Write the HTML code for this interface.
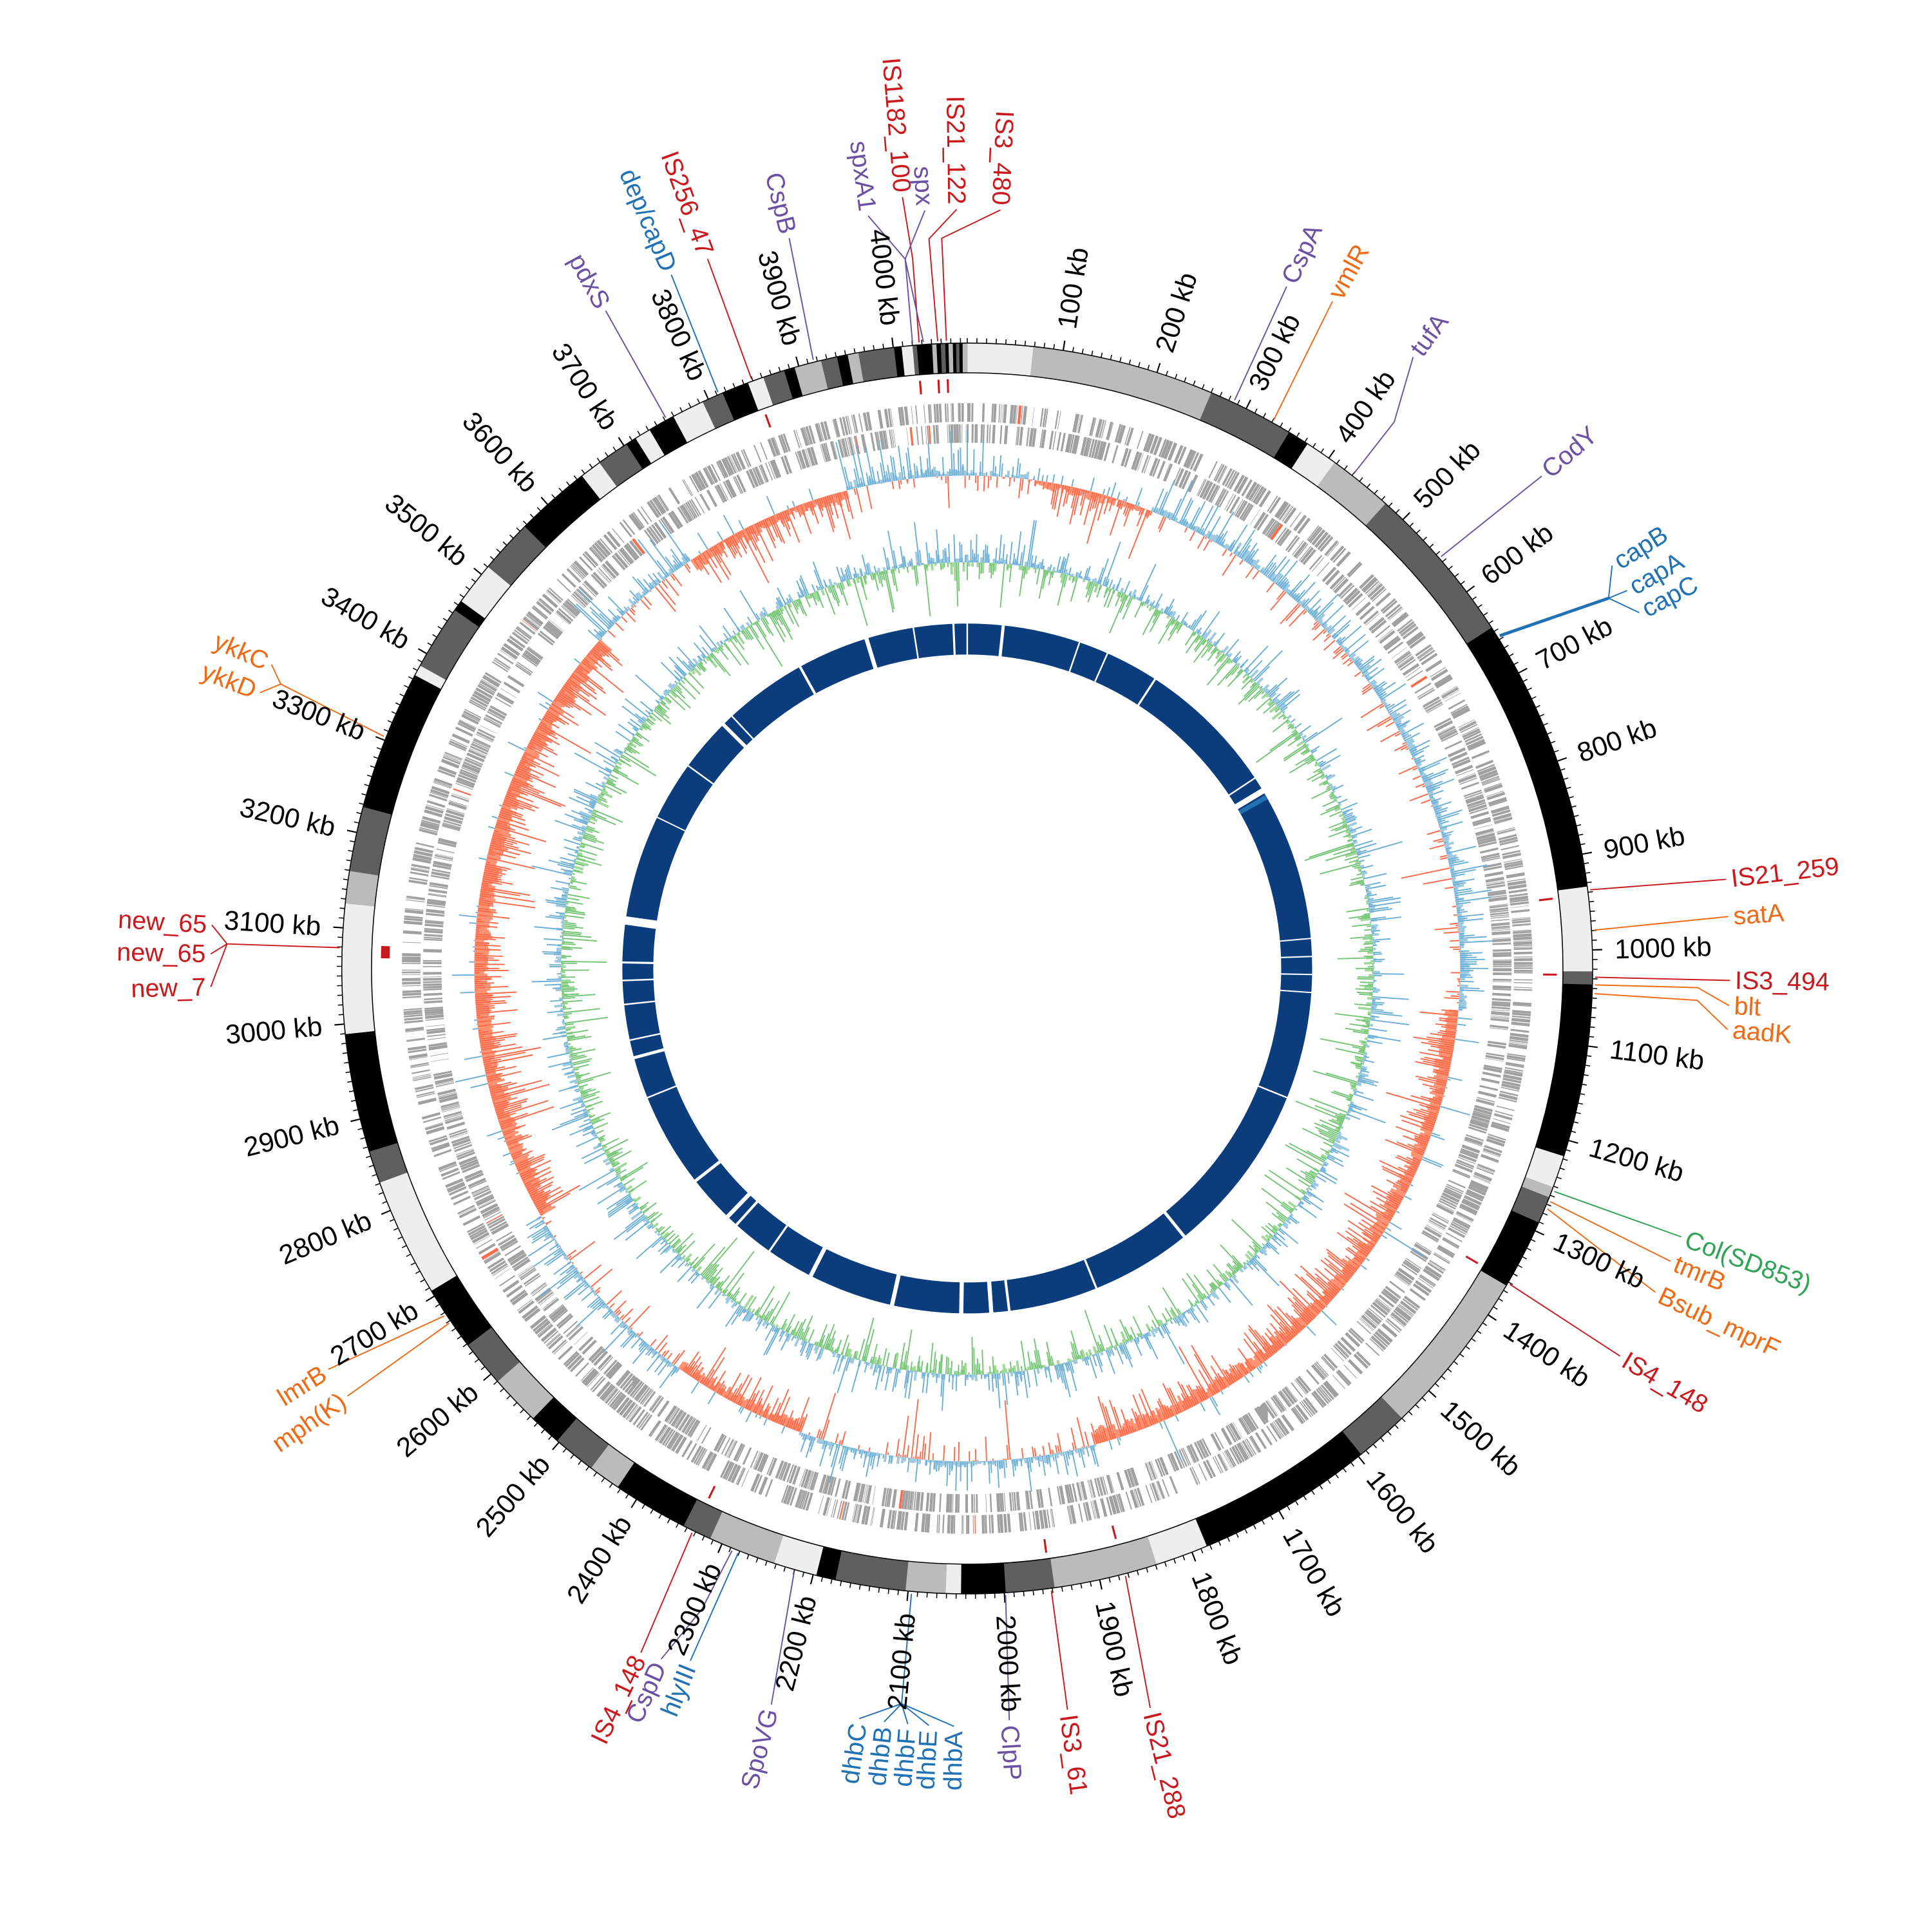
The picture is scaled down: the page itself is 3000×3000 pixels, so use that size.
<!DOCTYPE html>
<html><head><meta charset="utf-8"><style>
html,body{margin:0;padding:0;background:#fff}
svg{display:block}
text{font-family:"Liberation Sans Narrow","Liberation Sans",sans-serif;dominant-baseline:central}
.t{font-size:22px;fill:#000}
.a{font-size:20.5px}
.r{fill:#cb181d}.o{fill:#f16913}.p{fill:#6a51a3}.b{fill:#2171b5}.g{fill:#31a354}
</style></head><body>
<svg id="s" xmlns="http://www.w3.org/2000/svg" width="3000" height="3000" viewBox="0 0 1560 1560">
<rect width="1560" height="1560" fill="#fff"/>
<g id="data"></g>
<g id="tl">
<text class="t" x="1304" y="782" transform="rotate(-81.17 781 782)">100 kb</text>
<text class="t" x="1304" y="782" transform="rotate(-72.34 781 782)">200 kb</text>
<text class="t" x="1304" y="782" transform="rotate(-63.51 781 782)">300 kb</text>
<text class="t" x="1304" y="782" transform="rotate(-54.68 781 782)">400 kb</text>
<text class="t" x="1304" y="782" transform="rotate(-45.85 781 782)">500 kb</text>
<text class="t" x="1304" y="782" transform="rotate(-37.02 781 782)">600 kb</text>
<text class="t" x="1304" y="782" transform="rotate(-28.19 781 782)">700 kb</text>
<text class="t" x="1304" y="782" transform="rotate(-19.36 781 782)">800 kb</text>
<text class="t" x="1304" y="782" transform="rotate(-10.53 781 782)">900 kb</text>
<text class="t" x="1304" y="782" transform="rotate(-1.70 781 782)">1000 kb</text>
<text class="t" x="1304" y="782" transform="rotate(7.13 781 782)">1100 kb</text>
<text class="t" x="1304" y="782" transform="rotate(15.96 781 782)">1200 kb</text>
<text class="t" x="1304" y="782" transform="rotate(24.79 781 782)">1300 kb</text>
<text class="t" x="1304" y="782" transform="rotate(33.62 781 782)">1400 kb</text>
<text class="t" x="1304" y="782" transform="rotate(42.45 781 782)">1500 kb</text>
<text class="t" x="1304" y="782" transform="rotate(51.28 781 782)">1600 kb</text>
<text class="t" x="1304" y="782" transform="rotate(60.11 781 782)">1700 kb</text>
<text class="t" x="1304" y="782" transform="rotate(68.94 781 782)">1800 kb</text>
<text class="t" x="1304" y="782" transform="rotate(77.77 781 782)">1900 kb</text>
<text class="t" x="1304" y="782" transform="rotate(86.60 781 782)">2000 kb</text>
<text class="t" x="258" y="782" text-anchor="end" transform="rotate(275.43 781 782)">2100 kb</text>
<text class="t" x="258" y="782" text-anchor="end" transform="rotate(284.26 781 782)">2200 kb</text>
<text class="t" x="258" y="782" text-anchor="end" transform="rotate(293.09 781 782)">2300 kb</text>
<text class="t" x="258" y="782" text-anchor="end" transform="rotate(301.92 781 782)">2400 kb</text>
<text class="t" x="258" y="782" text-anchor="end" transform="rotate(310.75 781 782)">2500 kb</text>
<text class="t" x="258" y="782" text-anchor="end" transform="rotate(319.58 781 782)">2600 kb</text>
<text class="t" x="258" y="782" text-anchor="end" transform="rotate(328.41 781 782)">2700 kb</text>
<text class="t" x="258" y="782" text-anchor="end" transform="rotate(337.24 781 782)">2800 kb</text>
<text class="t" x="258" y="782" text-anchor="end" transform="rotate(346.07 781 782)">2900 kb</text>
<text class="t" x="258" y="782" text-anchor="end" transform="rotate(354.90 781 782)">3000 kb</text>
<text class="t" x="258" y="782" text-anchor="end" transform="rotate(363.73 781 782)">3100 kb</text>
<text class="t" x="258" y="782" text-anchor="end" transform="rotate(372.56 781 782)">3200 kb</text>
<text class="t" x="258" y="782" text-anchor="end" transform="rotate(381.39 781 782)">3300 kb</text>
<text class="t" x="258" y="782" text-anchor="end" transform="rotate(390.22 781 782)">3400 kb</text>
<text class="t" x="258" y="782" text-anchor="end" transform="rotate(399.05 781 782)">3500 kb</text>
<text class="t" x="258" y="782" text-anchor="end" transform="rotate(407.88 781 782)">3600 kb</text>
<text class="t" x="258" y="782" text-anchor="end" transform="rotate(416.71 781 782)">3700 kb</text>
<text class="t" x="258" y="782" text-anchor="end" transform="rotate(425.54 781 782)">3800 kb</text>
<text class="t" x="258" y="782" text-anchor="end" transform="rotate(434.37 781 782)">3900 kb</text>
<text class="t" x="258" y="782" text-anchor="end" transform="rotate(443.20 781 782)">4000 kb</text>
</g>
<g id="al">
<text class="a p" x="1393" y="782" transform="rotate(-64.9 781 782)">CspA</text>
<text class="a o" x="1399" y="782" transform="rotate(-61.3 781 782)">vmlR</text>
<text class="a p" x="1396" y="782" transform="rotate(-53.9 781 782)">tufA</text>
<text class="a p" x="1396" y="782" transform="rotate(-40.6 781 782)">CodY</text>
<text class="a b" x="1399" y="782" transform="rotate(-32.0 781 782)">capB</text>
<text class="a b" x="1399" y="782" transform="rotate(-29.8 781 782)">capA</text>
<text class="a b" x="1399" y="782" transform="rotate(-27.9 781 782)">capC</text>
<text class="a r" x="1402" y="782" transform="rotate(-6.7 781 782)">IS21_259</text>
<text class="a o" x="1401" y="782" transform="rotate(-3.9 781 782)">satA</text>
<text class="a r" x="1401" y="782" transform="rotate(0.9 781 782)">IS3_494</text>
<text class="a o" x="1401" y="782" transform="rotate(2.8 781 782)">blt</text>
<text class="a o" x="1401" y="782" transform="rotate(4.6 781 782)">aadK</text>
<text class="a g" x="1401" y="782" transform="rotate(20.6 781 782)">Col(SD853)</text>
<text class="a o" x="1400" y="782" transform="rotate(22.6 781 782)">tmrB</text>
<text class="a o" x="1399" y="782" transform="rotate(25.2 781 782)">Bsub_mprF</text>
<text class="a r" x="1398" y="782" transform="rotate(30.7 781 782)">IS4_148</text>
<text class="a r" x="1400" y="782" transform="rotate(76.1 781 782)">IS21_288</text>
<text class="a r" x="1389" y="782" transform="rotate(82.3 781 782)">IS3_61</text>
<text class="a p" x="1393" y="782" transform="rotate(86.8 781 782)">ClpP</text>
<text class="a b" x="165" y="782" text-anchor="end" transform="rotate(271 781 782)">dhbA</text>
<text class="a b" x="165" y="782" text-anchor="end" transform="rotate(272.9 781 782)">dhbE</text>
<text class="a b" x="165" y="782" text-anchor="end" transform="rotate(274.5 781 782)">dhbF</text>
<text class="a b" x="165" y="782" text-anchor="end" transform="rotate(276.3 781 782)">dhbB</text>
<text class="a b" x="165" y="782" text-anchor="end" transform="rotate(278.2 781 782)">dhbC</text>
<text class="a p" x="162" y="782" text-anchor="end" transform="rotate(284.9 781 782)">SpoVG</text>
<text class="a b" x="175" y="782" text-anchor="end" transform="rotate(291.8 781 782)">hlyIII</text>
<text class="a p" x="167" y="782" text-anchor="end" transform="rotate(293.9 781 782)">CspD</text>
<text class="a r" x="165" y="782" text-anchor="end" transform="rotate(295.5 781 782)">IS4_148</text>
<text class="a o" x="168" y="782" text-anchor="end" transform="rotate(327.9 781 782)">lmrB</text>
<text class="a o" x="169" y="782" text-anchor="end" transform="rotate(325.4 781 782)">mph(K)</text>
<text class="a r" x="166" y="782" text-anchor="end" transform="rotate(363.3 781 782)">new_65</text>
<text class="a r" x="166" y="782" text-anchor="end" transform="rotate(361.1 781 782)">new_65</text>
<text class="a r" x="166" y="782" text-anchor="end" transform="rotate(358.6 781 782)">new_7</text>
<text class="a o" x="164" y="782" text-anchor="end" transform="rotate(383.6 781 782)">ykkC</text>
<text class="a o" x="164" y="782" text-anchor="end" transform="rotate(381.3 781 782)">ykkD</text>
<text class="a p" x="171" y="782" text-anchor="end" transform="rotate(421.2 781 782)">pdxS</text>
<text class="a b" x="168" y="782" text-anchor="end" transform="rotate(426.9 781 782)">dep/capD</text>
<text class="a r" x="167" y="782" text-anchor="end" transform="rotate(429.9 781 782)">IS256_47</text>
<text class="a p" x="170" y="782" text-anchor="end" transform="rotate(436.3 781 782)">CspB</text>
<text class="a p" x="164" y="782" text-anchor="end" transform="rotate(442.5 781 782)">spxA1</text>
<text class="a r" x="152" y="782" text-anchor="end" transform="rotate(445.2 781 782)">IS1182_100</text>
<text class="a p" x="164" y="782" text-anchor="end" transform="rotate(446.8 781 782)">spx</text>
<text class="a r" x="164" y="782" text-anchor="end" transform="rotate(449.2 781 782)">IS21_122</text>
<text class="a r" x="164" y="782" text-anchor="end" transform="rotate(452.5 781 782)">IS3_480</text>
</g>
</svg>
<script>
(function(){
var NS="http://www.w3.org/2000/svg",D=document.getElementById("data");
var CX=781,CY=782;
function P(r,a){a=a*Math.PI/180;return [CX+r*Math.sin(a),CY-r*Math.cos(a)];}
function f(v){return v.toFixed(2);}
function arc(r,a1,a2){var p=P(r,a1),q=P(r,a2);var l=(a2-a1)>180?1:0;return "M"+f(p[0])+","+f(p[1])+"A"+r+","+r+" 0 "+l+" 1 "+f(q[0])+","+f(q[1]);}
function el(tag,at){var e=document.createElementNS(NS,tag);for(var k in at)e.setAttribute(k,at[k]);D.appendChild(e);return e;}
function path(d,at){at.d=d;if(!at.fill)at.fill="none";return el("path",at);}
function rl(r1,r2,a){var p=P(r1,a),q=P(r2,a);return "M"+f(p[0])+","+f(p[1])+"L"+f(q[0])+","+f(q[1]);}
var s=12345;function R(){s|=0;s=s+0x6D2B79F5|0;var t=Math.imul(s^s>>>15,1|s);t=t+Math.imul(t^t>>>7,61|t)^t;return((t^t>>>14)>>>0)/4294967296;}
function G(){var u=R()||1e-9,v=R();return Math.sqrt(-2*Math.log(u))*Math.cos(2*Math.PI*v);}

var K="#000",Dk="#5f5f5f",M="#bbbbbb",L="#eeeeee";
var seg=[[0,6.1,L],[6.1,23,M],[23,31,Dk],[31,33,K],[33,36,L],[36,42,M],[42,57,Dk],[57,82.5,K],[82.5,90.3,L],[90.3,91.5,Dk],[91.5,107.5,K],[107.5,110.5,L],[110.5,111.5,M],[111.5,114,Dk],[114,120.5,K],[120.5,136,M],[136,141,Dk],[141,157.5,K],[157.5,162.4,L],[162.4,172,M],[172,176.5,Dk],[176.5,180.6,K],[180.6,182,L],[182,185.7,M],[185.7,192.2,Dk],[192.2,194,K],[194,198,L],[198,204.3,M],[204.3,207,Dk],[207,214,K],[214,217,M],[217,221,Dk],[221,224,K],[224,228.7,M],[228.7,233,Dk],[233,239,K],[239,250,L],[250,253,Dk],[253,264,K],[264,276,L],[276,279,M],[279,285,Dk],[285,298,K],[298,299,L],[299,305,Dk],[305,306,K],[306,310,L],[310,315,Dk],[315,322,K],[322,324,L],[324,327,Dk],[327,328,K],[328,329.5,L],[329.5,332,K],[332,335,L],[335,337,Dk],[337,339.5,K],[339.5,341,L],[341,343,Dk],[343,344,K],[344,346.5,M],[346.5,348,Dk],[348,349,K],[349,350,M],[350,353.3,Dk],[353.3,354,K],[354,355,L],[355,355.4,Dk],[355.4,356.8,K],[356.8,357.2,M],[357.2,357.6,K],[357.6,358,Dk],[358,358.3,K],[358.3,358.7,M],[358.7,359,K],[359,359.3,Dk],[359.3,359.6,K],[359.6,360,M]];
seg.forEach(function(g){path(arc(493,g[0]-0.03,g[1]+0.03),{stroke:g[2],"stroke-width":24});});
el("circle",{cx:CX,cy:CY,r:505,fill:"none",stroke:"#000","stroke-width":0.8});
el("circle",{cx:CX,cy:CY,r:481,fill:"none",stroke:"#000","stroke-width":0.8});
var dm="",dM="",kbd=360/4077;
for(var k=0;k<4077;k+=10){var a=k*kbd;if(k%100==0&&k>0)dM+=rl(505,513,a);else dm+=rl(505,509,a);}
path(dm,{stroke:"#000","stroke-width":0.8});path(dM,{stroke:"#000","stroke-width":1.1});

var isd="";[-4.6,-2.8,-1.9,340,83.2,90.6,120,165.4,172.3,206].forEach(function(a){isd+=rl(465,476,a);});
path(isd,{stroke:"#cb181d","stroke-width":1.6});
path(arc(470,271,272.2),{stroke:"#cb181d","stroke-width":7});

[[449,15],[432,15]].forEach(function(row){
 var d="",dr="",a=0;
 while(a<360){var len=0.04+R()*0.3;
  if(R()<0.62){var x=arc(row[0],a,a+len);if(R()<0.01)dr+=x;else d+=x;}
  a+=len+R()*0.12;}
 path(d,{stroke:"#a0a0a0","stroke-width":row[1]});
 path(dr,{stroke:"#fb6a4a","stroke-width":row[1]});
});

function tr(a,T){for(var i=0;i<T.length;i++){if(a>=T[i][0]&&a<T[i][1])return T[i][2];}return 0;}
var TS=[[0,8,3],[8,22,-6],[22,95,6],[95,165,-13],[165,200,4],[200,216,-10],[216,240,3],[240,312,-16],[312,326,5],[326,346,-10],[346,360,5]];
var B1=398,lb="",lr="",sb="",sr="";
for(var i=0;i<1440;i++){var a=i/4;var t=tr(a,TS);
 var ts=t*0.7+G()*2;
 if(ts>0)lb+=rl(B1,B1+ts,a);else lr+=rl(B1,B1+ts,a);
 var v=t+G()*12+(R()<0.07?G()*18:0);
 if(v>0)sb+=rl(B1,B1+Math.min(v,40),a);else sr+=rl(B1,B1+Math.max(v,-48),a);}
path(lb,{stroke:"#9ecae1","stroke-width":2});
path(lr,{stroke:"#fc9272","stroke-width":2});
path(sr,{stroke:"#fb6a4a","stroke-width":1});
path(sb,{stroke:"#6baed6","stroke-width":1});

var B2=328,gb="",gg="",lg="",lbb="";
for(var i=0;i<1440;i++){var a=i/4;
 var m=G()*4;
 if(m<0)lg+=rl(B2,B2+m,a);else lbb+=rl(B2,B2+m,a);
 var v=G()*12+(R()<0.07?-Math.abs(G())*22:0)+(R()<0.05?Math.abs(G())*16:0);
 if(v>0)gb+=rl(B2,B2+Math.min(v,38),a);else gg+=rl(B2,B2+Math.max(v,-42),a);}
path(lg,{stroke:"#a1d99b","stroke-width":2});
path(lbb,{stroke:"#9ecae1","stroke-width":2});
path(gg,{stroke:"#74c476","stroke-width":1});
path(gb,{stroke:"#6baed6","stroke-width":1});

el("circle",{cx:CX,cy:CY,r:266,fill:"none",stroke:"#0b3d7c","stroke-width":25});
var gaps=[[278,1.6],[271,0.4],[268,0.3],[264,0.3],[258,0.3],[255,0.6],[248,0.3],[232,0.6],[224,0.8],[222,0.5],[215,0.4],[207,0.8],[192.6,0.8],[181,0.8],[176,0.8],[173,0.5],[158,0.4],[141,0.6],[112,0.3],[94,0.25],[91,0.25],[88,0.25],[85,0.25],[59,1.1],[56.5,0.3],[33,0.4],[24,0.3],[19,0.3],[6,0.6],[0,0.3],[357.7,0.4],[351,0.3],[343,0.8],[331,0.5],[317,0.3],[315,0.7],[306,0.3],[296,0.25]];
gaps.forEach(function(g){path(rl(252,280,g[0]),{stroke:"#fff","stroke-width":g[1]*4.2});});
path(arc(266,59.8,60.6),{stroke:"#2171b5","stroke-width":25});

var col={r:"#cb181d",o:"#f16913",p:"#6a51a3",b:"#2171b5",g:"#31a354"};
var LD=[
["p",[[507,25.2],[608,25.1]]],["o",[[507,29.2],[614,28.7]]],["p",[[507,38],[560,38],[611,36.1]]],["p",[[507,49],[611,49.4]]],
["b",[[507,58],[598,60],[614,58]]],["b",[[598,60],[614,60.2]]],["b",[[598,60],[614,62.1]]],
["r",[[507,82.8],[617,83.3]]],["o",[[507,86.5],[616,86.1]]],["r",[[507,90.8],[616,90.9]]],["o",[[507,91.5],[590,91.5],[616,92.8]]],["o",[[507,92.3],[590,92.5],[616,94.6]]],
["g",[[507,110.8],[616,110.6]]],["o",[[507,111.8],[615,112.6]]],["o",[[507,112.5],[614,115.2]]],["r",[[507,120.2],[613,120.7]]],
["r",[[507,165.4],[615,166.1]]],["r",[[507,172.3],[604,172.3]]],["p",[[507,176.5],[608,176.8]]],
["b",[[507,185.1],[596,185.1],[612,181]]],["b",[[596,185.1],[612,182.9]]],["b",[[596,185.1],[612,184.5]]],["b",[[596,185.1],[612,186.3]]],["b",[[596,185.1],[612,188.2]]],
["p",[[507,196],[615,194.9]]],["b",[[507,201.4],[602,201.8]]],["p",[[507,202],[560,202.5],[610,203.9]]],["r",[[507,206],[612,205.5]]],
["o",[[507,236.4],[609,237.9]]],["o",[[507,235.6],[608,235.4]]],
["r",[[507,271.9],[598,271.9],[611,273.3]]],["r",[[598,271.9],[611,271.1]]],["r",[[598,271.9],[611,268.6]]],
["o",[[507,291.7],[600,292.5],[613,293.6]]],["o",[[600,292.5],[613,291.3]]],
["p",[[507,331.3],[606,331.2]]],["b",[[507,336.6],[609,336.9]]],["r",[[507,339.9],[610,339.9]]],["p",[[507,345.8],[607,346.3]]],
["p",[[507,355],[575,355],[613,352.5]]],["r",[[507,355.6],[575,355.6],[625,355.2]]],["p",[[575,355],[613,356.8]]],["p",[[507,356],[575,355]]],
["r",[[507,357.3],[590,357],[613,359.2]]],["r",[[507,358.1],[590,358],[613,362.5]]]];
LD.forEach(function(l){var d="";l[1].forEach(function(q,j){var p=P(q[0],q[1]);d+=(j?"L":"M")+f(p[0])+","+f(p[1]);});path(d,{stroke:col[l[0]],"stroke-width":1});});
var capl=P(507,58),capm=P(598,60);path("M"+f(capl[0])+","+f(capl[1])+"L"+f(capm[0])+","+f(capm[1]),{stroke:"#2171b5","stroke-width":2.5});
})();
</script>
</body></html>
